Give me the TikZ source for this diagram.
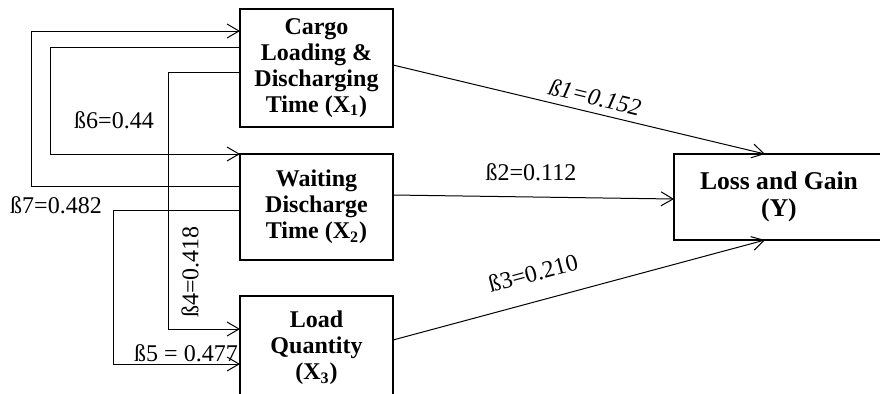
\documentclass[tikz,border=0pt]{standalone}
\usepackage{fontspec}
\setmainfont{Liberation Serif}
\usetikzlibrary{arrows.meta}
\tikzset{
  var/.style={draw,line width=1pt,align=center,inner sep=0pt,
    font=\fontsize{12}{12.9}\selectfont\bfseries,minimum width=76.5pt},
  link/.style={-{Straight Barb[length=6pt,width=7pt]},line width=0.5pt},
  coef/.style={inner sep=0pt,font=\fontsize{12}{14}\selectfont}
}
\begin{document}
\begin{tikzpicture}[x=0.5pt,y=-0.5pt]
  \clip (0,0) rectangle (880,393);
  \node[var,minimum height=59pt] (X1) at (316.5,68)
    {Cargo\\Loading \&\\Discharging\\Time (X\textsubscript{1})};
  \node[var,minimum height=53pt] (X2) at (316.5,207)
    {Waiting\\Discharge\\Time (X\textsubscript{2})};
  \node[var,minimum height=52pt] (X3) at (316.5,348)
    {Load\\Quantity\\(X\textsubscript{3})};
  \node[var,minimum height=43pt,minimum width=105pt,
    font=\fontsize{12.8}{13.8}\selectfont\bfseries] (Y) at (779,197)
    {Loss and Gain\\(Y)};
  \coordinate (x1r) at (393,65);
  \coordinate (x2r) at (393,195);
  \coordinate (x3r) at (393,340);
  \coordinate (yt) at (765,154);
  \coordinate (yl) at (674,199);
  \coordinate (yb) at (765,240);
  \coordinate (x1a) at (240,31);
  \coordinate (x1b) at (240,47);
  \coordinate (x1c) at (240,72);
  \coordinate (x2a) at (240,154);
  \coordinate (x2b) at (240,186);
  \coordinate (x2c) at (240,210);
  \coordinate (x3a) at (240,329);
  \coordinate (x3b) at (240,364);
  \begin{scope}[link]
    \draw (x1r) -- (yt);
    \draw (x2r) -- (yl);
    \draw (x3r) -- (yb);
    \draw (x2b) -| (31,31) -- (x1a);
    \draw (x1b) -| (50,154) -- (x2a);
    \draw (x1c) -| (168,329) -- (x3a);
    \draw (x2c) -| (113,364) -- (x3b);
  \end{scope}
  \node[coef,rotate=-13.5,font=\fontsize{12}{14}\selectfont\itshape] (b1) at (595,97) {ß1=0.152};
  \node[coef] (b2) at (531,172) {ß2=0.112};
  \node[coef,rotate=15] (b3) at (533,273) {ß3=0.210};
  \node[coef,rotate=90] (b4) at (190,272) {ß4=0.418};
  \node[coef] (b5) at (186,353) {ß5 = 0.477};
  \node[coef] (b6) at (114,120) {ß6=0.44};
  \node[coef] (b7) at (56,205) {ß7=0.482};
\end{tikzpicture}
\end{document}
